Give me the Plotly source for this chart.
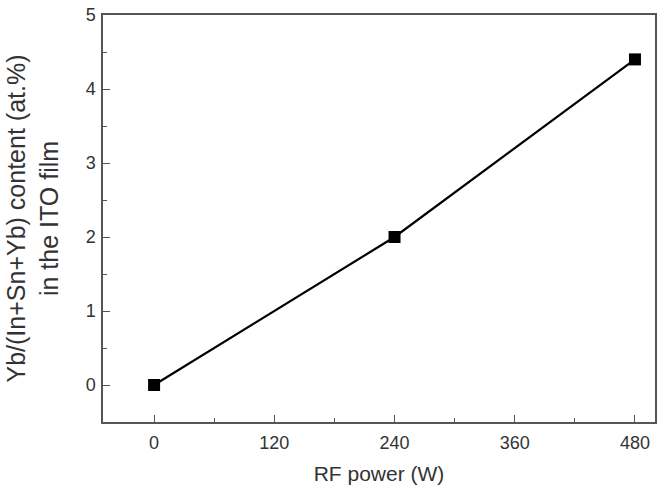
import plotly.graph_objects as go

rf_power = [0, 240, 480]
yb_content = [0, 2, 4.4]
x_ticks = [0, 120, 240, 360, 480]
y_ticks = [0, 1, 2, 3, 4, 5]

fig = go.Figure()
fig.add_trace(go.Scatter(
    x=rf_power, y=yb_content, mode="lines+markers",
    line=dict(color="black", width=2.2),
    marker=dict(symbol="square", size=12, color="black"),
    showlegend=False, cliponaxis=False,
))

FONT = "Liberation Sans, Arial"
axis_common = dict(
    showline=True, mirror=True, linecolor="#555555", linewidth=1.5,
    ticks="inside", ticklen=7, tickwidth=1.3, tickcolor="#555555",
    showgrid=False, zeroline=False,
    tickfont=dict(family=FONT, size=18, color="#333333"),
)

fig.update_xaxes(
    range=[-51, 500], tickvals=x_ticks,
    minor=dict(ticks="inside", ticklen=4, tickwidth=1.3, tickcolor="#555555", dtick=60, tick0=0),
    title=dict(text="RF power (W)", font=dict(family=FONT, size=21, color="#333333"), standoff=14),
    ticklabelstandoff=4,
    **axis_common,
)
fig.update_yaxes(
    range=[-0.5, 5], tickvals=y_ticks,
    minor=dict(ticks="inside", ticklen=4, tickwidth=1.3, tickcolor="#555555", dtick=0.5, tick0=0),
    title=dict(text="Yb/(In+Sn+Yb) content (at.%)<br>in the ITO film", font=dict(family=FONT, size=25, color="#333333"), standoff=20),
    ticklabelstandoff=2,
    **axis_common,
)

fig.update_layout(
    width=659, height=486,
    margin=dict(l=103, r=2, t=15, b=64),
    plot_bgcolor="white", paper_bgcolor="white",
)

fig.write_html("out.html")
